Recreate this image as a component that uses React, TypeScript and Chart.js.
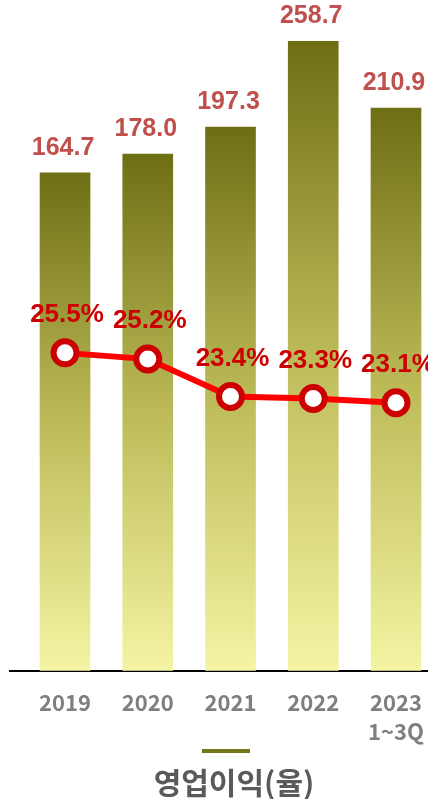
import React, { useEffect, useRef } from "react";
import { Chart, registerables } from "chart.js";

Chart.register(...registerables);

const categories: string[][] = [["2019"], ["2020"], ["2021"], ["2022"], ["2023", "1~3Q"]];
const operatingProfit: number[] = [164.7, 178.0, 197.3, 258.7, 210.9];
const profitRate: number[] = [25.5, 25.2, 23.4, 23.3, 23.1];
const legendLabel = "영업이익(율)";

const BAR_AXIS_MIN = -191;
const BAR_AXIS_MAX = 281;
const RATE_AXIS_MIN = 10.2;
const RATE_AXIS_MAX = 42;
const X_MIN = -0.665;
const X_MAX = 4.387;

const labelPlugin = {
  id: "valueLabels",
  afterDatasetsDraw(chart: any) {
    const ctx = chart.ctx;
    ctx.save();
    ctx.textAlign = "center";
    ctx.textBaseline = "middle";
    const barMeta = chart.getDatasetMeta(1);
    ctx.font = "bold 25px 'Liberation Sans', Arial, sans-serif";
    ctx.fillStyle = "#c0504d";
    barMeta.data.forEach((el: any, i: number) => {
      ctx.fillText(operatingProfit[i].toFixed(1), el.x - 2, el.y - 25);
    });
    const lineMeta = chart.getDatasetMeta(0);
    ctx.font = "bold 26px 'Liberation Sans', Arial, sans-serif";
    ctx.fillStyle = "#cc0000";
    lineMeta.data.forEach((el: any, i: number) => {
      ctx.fillText(profitRate[i].toFixed(1) + "%", el.x + 2, el.y - 38);
    });
    ctx.restore();
  },
};

export default function App() {
  const canvasRef = useRef<HTMLCanvasElement | null>(null);

  useEffect(() => {
    if (!canvasRef.current) return;
    const chart = new Chart(canvasRef.current, {
      data: {
        datasets: [
          {
            type: "line",
            label: "rate",
            data: profitRate.map((v, i) => ({ x: i, y: v })),
            yAxisID: "y1",
            borderColor: "#ff0000",
            borderWidth: 6,
            pointRadius: 11.5,
            pointBorderWidth: 6,
            pointBackgroundColor: "#ffffff",
            pointBorderColor: "#cc0000",
            tension: 0,
            clip: false,
            order: 0,
          },
          {
            type: "bar",
            label: legendLabel,
            data: operatingProfit.map((v, i) => ({ x: i, y: v })),
            yAxisID: "y",
            base: BAR_AXIS_MIN,
            barThickness: 50,
            backgroundColor: (context: any) => {
              const c = context.chart;
              const area = c.chartArea;
              if (!area || !c.scales.y || context.dataIndex === undefined) return "#9c9c3c";
              const top = c.scales.y.getPixelForValue(operatingProfit[context.dataIndex]);
              const bottom = c.scales.y.getPixelForValue(BAR_AXIS_MIN);
              const g = c.ctx.createLinearGradient(0, top, 0, bottom);
              g.addColorStop(0, "#6e6e14");
              g.addColorStop(0.5, "#bdbb58");
              g.addColorStop(1, "#f4f4a4");
              return g;
            },
            order: 1,
          },
        ] as any,
      },
      options: {
        animation: false,
        responsive: true,
        maintainAspectRatio: false,
        layout: { autoPadding: false, padding: { left: 10, right: 0, top: 10, bottom: 0 } },
        plugins: { legend: { display: false }, tooltip: { enabled: false } },
        scales: {
          x: {
            type: "linear",
            offset: false,
            min: X_MIN,
            max: X_MAX,
            afterBuildTicks: (axis: any) => {
              axis.ticks = categories.map((_, i) => ({ value: i }));
            },
            afterFit: (axis: any) => {
              axis.paddingLeft = 0;
              axis.paddingRight = 0;
            },
            grid: { display: false, drawTicks: false, offset: false },
            border: { display: true, color: "#000000", width: 2 },
            ticks: {
              color: "#7f7f7f",
              font: { family: "'Noto Sans CJK KR', 'Noto Sans', sans-serif", size: 22, weight: "bold", lineHeight: 1.3 },
              padding: 18,
              maxRotation: 0,
              autoSkip: false,
              callback: (value: any) => categories[Math.round(Number(value))] || "",
            },
          },
          y: {
            display: false,
            min: BAR_AXIS_MIN,
            max: BAR_AXIS_MAX,
          },
          y1: {
            display: false,
            min: RATE_AXIS_MIN,
            max: RATE_AXIS_MAX,
          },
        },
      } as any,
      plugins: [labelPlugin],
    });
    return () => chart.destroy();
  }, []);

  return (
    <div style={{ position: "fixed", left: 0, top: 0, width: 428, height: 799, background: "#fff", overflow: "hidden" }}>
      <div style={{ position: "absolute", left: 0, top: 0, width: 428, height: 764 }}>
        <canvas ref={canvasRef} />
      </div>
      <div style={{ position: "absolute", left: 202, top: 749, width: 48, height: 4, background: "#76761a" }} />
      <div
        style={{
          position: "absolute",
          left: 0,
          width: 468,
          top: 762,
          textAlign: "center",
          fontFamily: "'Noto Sans CJK KR', sans-serif",
          fontWeight: 700,
          fontSize: 30,
          lineHeight: "38px",
          color: "#5a5a5a",
        }}
      >
        {legendLabel}
      </div>
    </div>
  );
}
